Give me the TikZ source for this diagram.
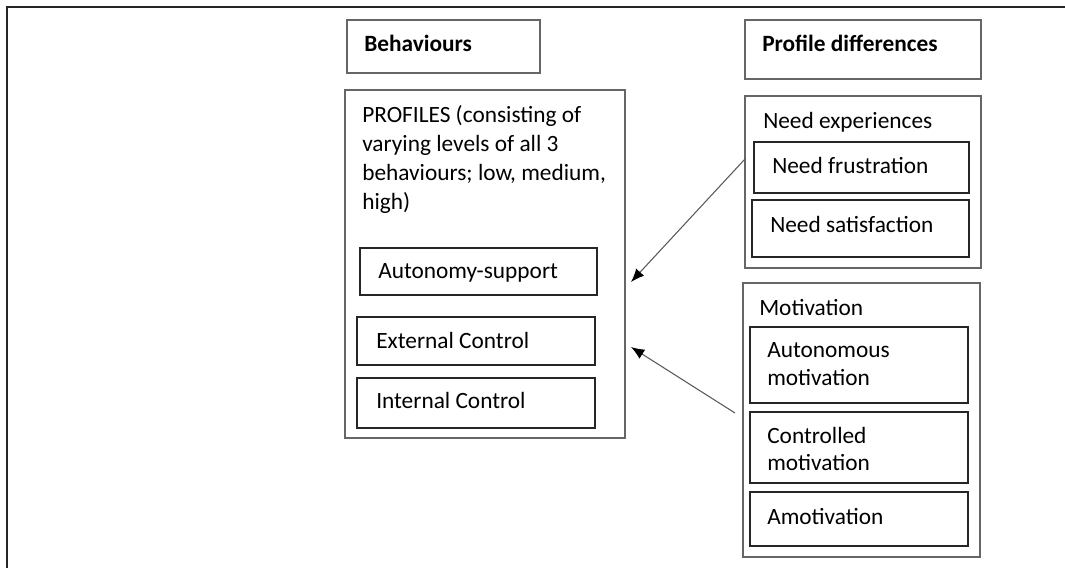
\documentclass[tikz,border=0pt]{standalone}
\usepackage{fontspec}
\setmainfont{Carlito}
\usetikzlibrary{fit,arrows.meta}
\begin{document}
\begin{tikzpicture}[x=0.75pt,y=-0.75pt,
  frame/.style={draw=black!85, line width=1.3pt},
  outerbox/.style={draw=black!60, line width=1.1pt, inner sep=0pt},
  innerbox/.style={draw=black!85, line width=0.9pt, inner sep=0pt},
  txt/.style={anchor=base west, inner sep=0pt, text=black, font=\fontsize{17.5}{21}\selectfont},
  btxt/.style={txt, font=\fontsize{17.5}{21}\selectfont\bfseries},
  arr/.style={draw=black!65, line width=0.8pt, -{Latex[length=10pt,width=8pt,color=black]}}]
\useasboundingbox (0,0) rectangle (1065,568);
\draw[frame] (1066,7) -- (7,7) -- (7,569);

% header boxes
\node[outerbox, fit={(347,20) (540,73)}] (behbox) {};
\node[btxt] (behtxt) at (364,51) {Behaviours};
\node[outerbox, fit={(745,20) (981,79)}] (pdbox) {};
\node[btxt] (pdtxt) at (762,51) {Profile differences};

% profiles
\node[outerbox, fit={(345,90) (625,438)}] (prof) {};
\node[txt] (p1) at (362,122) {PROFILES (consisting of};
\node[txt] (p2) at (362,151) {varying levels of all 3};
\node[txt] (p3) at (362,180) {behaviours; low, medium,};
\node[txt] (p4) at (362,209) {high)};
\node[innerbox, fit={(360,248) (597,295)}] (aut) {};
\node[txt] (auttxt) at (378,278) {Autonomy-support};
\node[innerbox, fit={(357,317) (595,365)}] (ext) {};
\node[txt] (exttxt) at (376,348) {External Control};
\node[innerbox, fit={(357,378) (595,428)}] (int) {};
\node[txt] (inttxt) at (376,408) {Internal Control};

% need experiences
\node[outerbox, fit={(745,96) (981,268)}] (need) {};
\node[txt] (needtxt) at (763,128) {Need experiences};
\node[innerbox, fit={(754,142) (969,193)}] (nf) {};
\node[txt] (nftxt) at (772,173) {Need frustration};
\node[innerbox, fit={(752,200) (969,257)}] (ns) {};
\node[txt] (nstxt) at (770,232) {Need satisfaction};

% motivation
\node[outerbox, fit={(743,283) (980,557)}] (mot) {};
\node[txt] (mottxt) at (759,315) {Motivation};
\node[innerbox, fit={(750,327) (968,403)}] (am) {};
\node[txt] (am1) at (767,357) {Autonomous};
\node[txt] (am2) at (767,385) {motivation};
\node[innerbox, fit={(750,412) (968,483)}] (cm) {};
\node[txt] (cm1) at (767,443) {Controlled};
\node[txt] (cm2) at (767,470) {motivation};
\node[innerbox, fit={(750,492) (968,546)}] (amo) {};
\node[txt] (amotxt) at (767,524) {Amotivation};

% arrows
\coordinate (a1s) at (745,159);
\coordinate (a1e) at (631,282);
\coordinate (a2s) at (735,413);
\coordinate (a2e) at (631,347);
\draw[arr] (a1s) -- (a1e);
\draw[arr] (a2s) -- (a2e);
\end{tikzpicture}
\end{document}
